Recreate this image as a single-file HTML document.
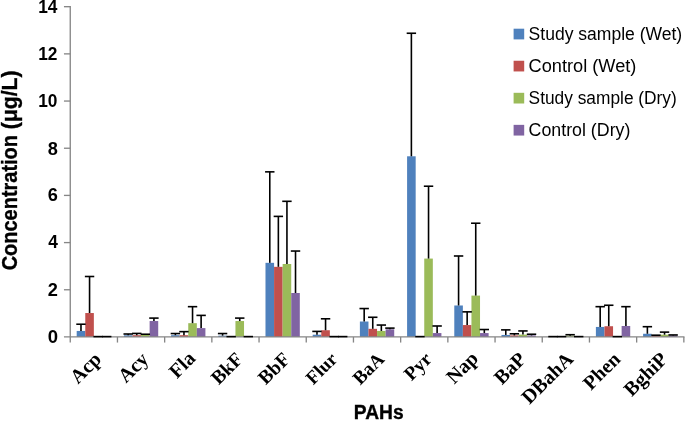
<!DOCTYPE html>
<html lang="en"><head><meta charset="utf-8"><title>PAHs concentration chart</title>
<style>html,body{margin:0;padding:0;background:#fff}svg{display:block}.yt{font-family:"Liberation Sans",sans-serif;font-weight:bold;font-size:17.5px;fill:#000}.lg{font-family:"Liberation Sans",sans-serif;font-size:17.5px;fill:#000}.ct{font-family:"Liberation Serif",serif;font-weight:bold;font-size:20px;fill:#000}.ti{font-family:"Liberation Sans",sans-serif;font-weight:bold;fill:#000;stroke:#000;stroke-width:0.35px}</style></head><body>
<svg width="685" height="421" viewBox="0 0 685 421">
<rect width="685" height="421" fill="#fff"/>
<rect x="76.69" y="330.94" width="8.58" height="6.01" fill="#4F81BD"/>
<rect x="85.27" y="313.03" width="8.58" height="23.92" fill="#C0504D"/>
<rect x="123.89" y="335.30" width="8.58" height="1.65" fill="#4F81BD"/>
<rect x="132.47" y="335.19" width="8.58" height="1.76" fill="#C0504D"/>
<rect x="141.05" y="334.95" width="8.58" height="2.00" fill="#9BBB59"/>
<rect x="149.63" y="321.04" width="8.58" height="15.91" fill="#8064A2"/>
<rect x="171.09" y="335.19" width="8.58" height="1.76" fill="#4F81BD"/>
<rect x="179.67" y="335.19" width="8.58" height="1.76" fill="#C0504D"/>
<rect x="188.25" y="323.17" width="8.58" height="13.78" fill="#9BBB59"/>
<rect x="196.83" y="328.11" width="8.58" height="8.84" fill="#8064A2"/>
<rect x="218.29" y="335.66" width="8.58" height="1.29" fill="#4F81BD"/>
<rect x="235.45" y="321.04" width="8.58" height="15.91" fill="#9BBB59"/>
<rect x="265.49" y="262.83" width="8.58" height="74.12" fill="#4F81BD"/>
<rect x="274.07" y="266.83" width="8.58" height="70.12" fill="#C0504D"/>
<rect x="282.65" y="264.00" width="8.58" height="72.95" fill="#9BBB59"/>
<rect x="291.23" y="293.00" width="8.58" height="43.95" fill="#8064A2"/>
<rect x="312.69" y="334.71" width="8.58" height="2.24" fill="#4F81BD"/>
<rect x="321.27" y="330.24" width="8.58" height="6.71" fill="#C0504D"/>
<rect x="359.89" y="321.52" width="8.58" height="15.43" fill="#4F81BD"/>
<rect x="368.47" y="328.82" width="8.58" height="8.13" fill="#C0504D"/>
<rect x="377.05" y="330.94" width="8.58" height="6.01" fill="#9BBB59"/>
<rect x="385.63" y="329.29" width="8.58" height="7.66" fill="#8064A2"/>
<rect x="407.09" y="156.29" width="8.58" height="180.66" fill="#4F81BD"/>
<rect x="424.25" y="258.58" width="8.58" height="78.37" fill="#9BBB59"/>
<rect x="432.83" y="333.06" width="8.58" height="3.89" fill="#8064A2"/>
<rect x="454.29" y="305.49" width="8.58" height="31.46" fill="#4F81BD"/>
<rect x="462.87" y="325.05" width="8.58" height="11.90" fill="#C0504D"/>
<rect x="471.45" y="295.59" width="8.58" height="41.36" fill="#9BBB59"/>
<rect x="480.03" y="333.06" width="8.58" height="3.89" fill="#8064A2"/>
<rect x="501.49" y="334.95" width="8.58" height="2.00" fill="#4F81BD"/>
<rect x="510.07" y="335.42" width="8.58" height="1.53" fill="#C0504D"/>
<rect x="518.65" y="334.60" width="8.58" height="2.35" fill="#9BBB59"/>
<rect x="527.23" y="335.42" width="8.58" height="1.53" fill="#8064A2"/>
<rect x="565.85" y="335.66" width="8.58" height="1.29" fill="#9BBB59"/>
<rect x="595.89" y="326.94" width="8.58" height="10.01" fill="#4F81BD"/>
<rect x="604.47" y="326.23" width="8.58" height="10.72" fill="#C0504D"/>
<rect x="621.63" y="325.99" width="8.58" height="10.96" fill="#8064A2"/>
<rect x="643.09" y="333.77" width="8.58" height="3.18" fill="#4F81BD"/>
<rect x="651.67" y="335.89" width="8.58" height="1.06" fill="#C0504D"/>
<rect x="660.25" y="334.71" width="8.58" height="2.24" fill="#9BBB59"/>
<rect x="668.83" y="335.42" width="8.58" height="1.53" fill="#8064A2"/>
<g stroke="#868686" stroke-width="1.33" fill="none">
<line x1="70.25" y1="6" x2="70.25" y2="342.55"/>
<line x1="63.95" y1="336.95" x2="684.5" y2="336.95"/>
<line x1="63.95" y1="289.77" x2="70.25" y2="289.77"/>
<line x1="63.95" y1="242.59" x2="70.25" y2="242.59"/>
<line x1="63.95" y1="195.41" x2="70.25" y2="195.41"/>
<line x1="63.95" y1="148.23" x2="70.25" y2="148.23"/>
<line x1="63.95" y1="101.05" x2="70.25" y2="101.05"/>
<line x1="63.95" y1="53.87" x2="70.25" y2="53.87"/>
<line x1="63.95" y1="6.69" x2="70.25" y2="6.69"/>
<line x1="117.45" y1="336.95" x2="117.45" y2="342.55"/>
<line x1="164.65" y1="336.95" x2="164.65" y2="342.55"/>
<line x1="211.85" y1="336.95" x2="211.85" y2="342.55"/>
<line x1="259.05" y1="336.95" x2="259.05" y2="342.55"/>
<line x1="306.25" y1="336.95" x2="306.25" y2="342.55"/>
<line x1="353.45" y1="336.95" x2="353.45" y2="342.55"/>
<line x1="400.65" y1="336.95" x2="400.65" y2="342.55"/>
<line x1="447.85" y1="336.95" x2="447.85" y2="342.55"/>
<line x1="495.05" y1="336.95" x2="495.05" y2="342.55"/>
<line x1="542.25" y1="336.95" x2="542.25" y2="342.55"/>
<line x1="589.45" y1="336.95" x2="589.45" y2="342.55"/>
<line x1="636.65" y1="336.95" x2="636.65" y2="342.55"/>
<line x1="683.85" y1="336.95" x2="683.85" y2="342.55"/>
</g>
<g stroke="#000" stroke-width="1.6" fill="none">
<line x1="80.98" y1="330.94" x2="80.98" y2="324.23"/>
<line x1="76.28" y1="324.23" x2="85.68" y2="324.23"/>
<line x1="89.56" y1="313.03" x2="89.56" y2="276.50"/>
<line x1="84.86" y1="276.50" x2="94.26" y2="276.50"/>
<line x1="93.44" y1="336.60" x2="102.84" y2="336.60"/>
<line x1="102.02" y1="336.60" x2="111.42" y2="336.60"/>
<line x1="128.18" y1="335.30" x2="128.18" y2="334.01"/>
<line x1="123.48" y1="334.01" x2="132.88" y2="334.01"/>
<line x1="136.76" y1="335.19" x2="136.76" y2="333.42"/>
<line x1="132.06" y1="333.42" x2="141.46" y2="333.42"/>
<line x1="145.34" y1="334.95" x2="145.34" y2="334.24"/>
<line x1="140.64" y1="334.24" x2="150.04" y2="334.24"/>
<line x1="153.92" y1="321.04" x2="153.92" y2="318.10"/>
<line x1="149.22" y1="318.10" x2="158.62" y2="318.10"/>
<line x1="175.38" y1="335.19" x2="175.38" y2="333.54"/>
<line x1="170.68" y1="333.54" x2="180.08" y2="333.54"/>
<line x1="183.96" y1="335.19" x2="183.96" y2="331.65"/>
<line x1="179.26" y1="331.65" x2="188.66" y2="331.65"/>
<line x1="192.54" y1="323.17" x2="192.54" y2="306.67"/>
<line x1="187.84" y1="306.67" x2="197.24" y2="306.67"/>
<line x1="201.12" y1="328.11" x2="201.12" y2="315.39"/>
<line x1="196.42" y1="315.39" x2="205.82" y2="315.39"/>
<line x1="222.58" y1="335.66" x2="222.58" y2="333.54"/>
<line x1="217.88" y1="333.54" x2="227.28" y2="333.54"/>
<line x1="226.46" y1="336.60" x2="235.86" y2="336.60"/>
<line x1="239.74" y1="321.04" x2="239.74" y2="318.10"/>
<line x1="235.04" y1="318.10" x2="244.44" y2="318.10"/>
<line x1="243.62" y1="336.60" x2="253.02" y2="336.60"/>
<line x1="269.78" y1="262.83" x2="269.78" y2="171.85"/>
<line x1="265.08" y1="171.85" x2="274.48" y2="171.85"/>
<line x1="278.36" y1="266.83" x2="278.36" y2="216.39"/>
<line x1="273.66" y1="216.39" x2="283.06" y2="216.39"/>
<line x1="286.94" y1="264.00" x2="286.94" y2="201.31"/>
<line x1="282.24" y1="201.31" x2="291.64" y2="201.31"/>
<line x1="295.52" y1="293.00" x2="295.52" y2="251.04"/>
<line x1="290.82" y1="251.04" x2="300.22" y2="251.04"/>
<line x1="316.98" y1="334.71" x2="316.98" y2="331.41"/>
<line x1="312.28" y1="331.41" x2="321.68" y2="331.41"/>
<line x1="325.56" y1="330.24" x2="325.56" y2="318.80"/>
<line x1="320.86" y1="318.80" x2="330.26" y2="318.80"/>
<line x1="329.44" y1="336.60" x2="338.84" y2="336.60"/>
<line x1="338.02" y1="336.60" x2="347.42" y2="336.60"/>
<line x1="364.18" y1="321.52" x2="364.18" y2="308.55"/>
<line x1="359.48" y1="308.55" x2="368.88" y2="308.55"/>
<line x1="372.76" y1="328.82" x2="372.76" y2="317.27"/>
<line x1="368.06" y1="317.27" x2="377.46" y2="317.27"/>
<line x1="381.34" y1="330.94" x2="381.34" y2="325.05"/>
<line x1="376.64" y1="325.05" x2="386.04" y2="325.05"/>
<line x1="389.92" y1="329.29" x2="389.92" y2="328.11"/>
<line x1="385.22" y1="328.11" x2="394.62" y2="328.11"/>
<line x1="411.38" y1="156.29" x2="411.38" y2="33.25"/>
<line x1="406.68" y1="33.25" x2="416.08" y2="33.25"/>
<line x1="415.26" y1="336.60" x2="424.66" y2="336.60"/>
<line x1="428.54" y1="258.58" x2="428.54" y2="186.22"/>
<line x1="423.84" y1="186.22" x2="433.24" y2="186.22"/>
<line x1="437.12" y1="333.06" x2="437.12" y2="325.99"/>
<line x1="432.42" y1="325.99" x2="441.82" y2="325.99"/>
<line x1="458.58" y1="305.49" x2="458.58" y2="255.99"/>
<line x1="453.88" y1="255.99" x2="463.28" y2="255.99"/>
<line x1="467.16" y1="325.05" x2="467.16" y2="311.85"/>
<line x1="462.46" y1="311.85" x2="471.86" y2="311.85"/>
<line x1="475.74" y1="295.59" x2="475.74" y2="223.23"/>
<line x1="471.04" y1="223.23" x2="480.44" y2="223.23"/>
<line x1="484.32" y1="333.06" x2="484.32" y2="329.53"/>
<line x1="479.62" y1="329.53" x2="489.02" y2="329.53"/>
<line x1="505.78" y1="334.95" x2="505.78" y2="329.88"/>
<line x1="501.08" y1="329.88" x2="510.48" y2="329.88"/>
<line x1="514.36" y1="335.42" x2="514.36" y2="333.77"/>
<line x1="509.66" y1="333.77" x2="519.06" y2="333.77"/>
<line x1="522.94" y1="334.60" x2="522.94" y2="330.94"/>
<line x1="518.24" y1="330.94" x2="527.64" y2="330.94"/>
<line x1="531.52" y1="335.42" x2="531.52" y2="334.24"/>
<line x1="526.82" y1="334.24" x2="536.22" y2="334.24"/>
<line x1="548.28" y1="336.60" x2="557.68" y2="336.60"/>
<line x1="556.86" y1="336.60" x2="566.26" y2="336.60"/>
<line x1="570.14" y1="335.66" x2="570.14" y2="334.71"/>
<line x1="565.44" y1="334.71" x2="574.84" y2="334.71"/>
<line x1="574.02" y1="336.60" x2="583.42" y2="336.60"/>
<line x1="600.18" y1="326.94" x2="600.18" y2="306.67"/>
<line x1="595.48" y1="306.67" x2="604.88" y2="306.67"/>
<line x1="608.76" y1="326.23" x2="608.76" y2="305.25"/>
<line x1="604.06" y1="305.25" x2="613.46" y2="305.25"/>
<line x1="612.64" y1="336.60" x2="622.04" y2="336.60"/>
<line x1="625.92" y1="325.99" x2="625.92" y2="306.67"/>
<line x1="621.22" y1="306.67" x2="630.62" y2="306.67"/>
<line x1="647.38" y1="333.77" x2="647.38" y2="326.70"/>
<line x1="642.68" y1="326.70" x2="652.08" y2="326.70"/>
<line x1="655.96" y1="335.89" x2="655.96" y2="335.19"/>
<line x1="651.26" y1="335.19" x2="660.66" y2="335.19"/>
<line x1="664.54" y1="334.71" x2="664.54" y2="332.12"/>
<line x1="659.84" y1="332.12" x2="669.24" y2="332.12"/>
<line x1="673.12" y1="335.42" x2="673.12" y2="334.95"/>
<line x1="668.42" y1="334.95" x2="677.82" y2="334.95"/>
</g>
<text class="yt" text-anchor="end" transform="translate(58.0,343.25) scale(1.06,1)">0</text>
<text class="yt" text-anchor="end" transform="translate(58.0,296.07) scale(1.04,1)">2</text>
<text class="yt" text-anchor="end" transform="translate(58.0,248.39) scale(0.99,1)">4</text>
<text class="yt" text-anchor="end" transform="translate(58.0,201.21) scale(1.04,1)">6</text>
<text class="yt" text-anchor="end" transform="translate(58.0,154.53) scale(1.04,1)">8</text>
<text class="yt" text-anchor="end" transform="translate(57.5,106.90) scale(0.99,1)">10</text>
<text class="yt" text-anchor="end" transform="translate(57.5,59.67) scale(0.99,1)">12</text>
<text class="yt" text-anchor="end" transform="translate(57.5,13.04) scale(0.99,1)">14</text>
<text class="ti" font-size="22.4" transform="translate(17.4,270.3) rotate(-90)"><tspan x="0" textLength="135.3" lengthAdjust="spacingAndGlyphs">Concentration</tspan><tspan x="135.3" textLength="64.5" lengthAdjust="spacingAndGlyphs"> (μg/L)</tspan></text>
<text class="ti" font-size="19.6" x="353.8" y="419.4" textLength="49.8" lengthAdjust="spacingAndGlyphs">PAHs</text>
<text class="ct" text-anchor="end" transform="translate(102.35,360.30) rotate(-45)">Acp</text>
<text class="ct" text-anchor="end" transform="translate(149.55,360.30) rotate(-45)">Acy</text>
<text class="ct" text-anchor="end" transform="translate(196.55,359.50) rotate(-45)">Fla</text>
<text class="ct" style="font-size:19.5px" text-anchor="end" transform="translate(243.95,360.30) rotate(-45)">BkF</text>
<text class="ct" style="font-size:19.5px" text-anchor="end" transform="translate(291.15,360.30) rotate(-45)">BbF</text>
<text class="ct" style="font-size:18.8px" text-anchor="end" transform="translate(338.35,360.30) rotate(-45)">Flur</text>
<text class="ct" style="font-size:19px" text-anchor="end" transform="translate(385.55,360.30) rotate(-45)">BaA</text>
<text class="ct" style="font-size:19.3px" text-anchor="end" transform="translate(432.75,360.30) rotate(-45)">Pyr</text>
<text class="ct" text-anchor="end" transform="translate(479.45,359.60) rotate(-45)">Nap</text>
<text class="ct" text-anchor="end" transform="translate(527.15,360.30) rotate(-45)">BaP</text>
<text class="ct" text-anchor="end" transform="translate(574.35,360.30) rotate(-45)">DBahA</text>
<text class="ct" text-anchor="end" transform="translate(621.55,360.30) rotate(-45)">Phen</text>
<text class="ct" text-anchor="end" transform="translate(668.75,360.30) rotate(-45)">BghiP</text>
<rect x="513.6" y="28.70" width="10.6" height="10.7" fill="#4F81BD"/>
<text class="lg" x="528.6" y="39.50" textLength="153.6" lengthAdjust="spacingAndGlyphs">Study sample (Wet)</text>
<rect x="513.6" y="60.75" width="10.6" height="10.7" fill="#C0504D"/>
<text class="lg" x="528.6" y="71.55" textLength="107.8" lengthAdjust="spacingAndGlyphs">Control (Wet)</text>
<rect x="513.6" y="92.80" width="10.6" height="10.7" fill="#9BBB59"/>
<text class="lg" x="528.6" y="103.60" textLength="148.2" lengthAdjust="spacingAndGlyphs">Study sample (Dry)</text>
<rect x="513.6" y="124.85" width="10.6" height="10.7" fill="#8064A2"/>
<text class="lg" x="528.6" y="135.65" textLength="101.8" lengthAdjust="spacingAndGlyphs">Control (Dry)</text>
</svg></body></html>
